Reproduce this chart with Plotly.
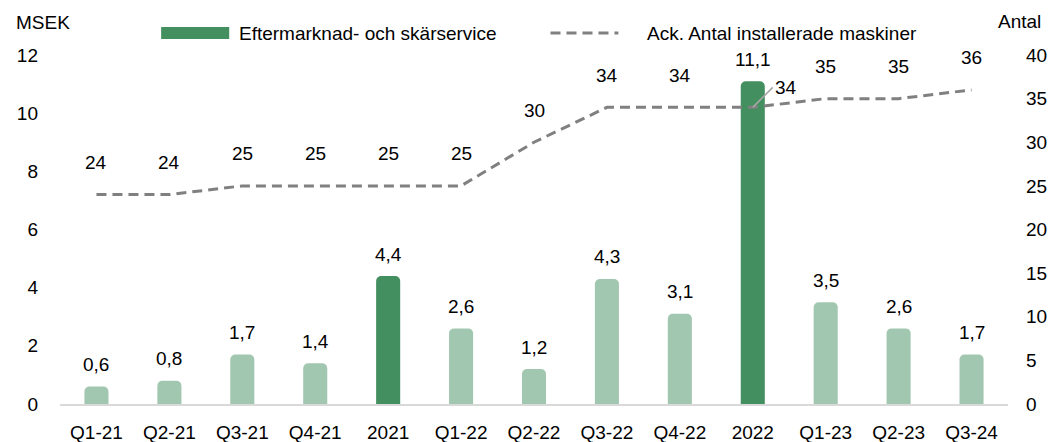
import plotly.graph_objects as go

categories = ["Q1-21", "Q2-21", "Q3-21", "Q4-21", "2021", "Q1-22", "Q2-22",
              "Q3-22", "Q4-22", "2022", "Q1-23", "Q2-23", "Q3-24"]
service_msek = [0.6, 0.8, 1.7, 1.4, 4.4, 2.6, 1.2, 4.3, 3.1, 11.1, 3.5, 2.6, 1.7]
installed_machines = [24, 24, 25, 25, 25, 25, 30, 34, 34, 34, 35, 35, 36]
left_ticks = [0, 2, 4, 6, 8, 10, 12]
right_ticks = [0, 5, 10, 15, 20, 25, 30, 35, 40]

FONT = "Liberation Sans, Arial, sans-serif"
FS = 19
LIGHT = "#a2c7b0"
DARK = "#438f60"
GREY = "#808080"
TXT = "#000000"

def fmt(v):
    return f"{v:.1f}".replace(".", ",")

bar_colors = [DARK if not c.startswith("Q") else LIGHT for c in categories]

fig = go.Figure()
fig.add_trace(go.Bar(x=categories, y=service_msek, marker_color=bar_colors,
                     marker_line_width=0, name="Eftermarknad- och skärservice",
                     showlegend=False, yaxis="y"))
fig.add_trace(go.Scatter(x=categories, y=installed_machines, mode="lines",
                         line=dict(color=GREY, width=3, dash="10px,6px"),
                         name="Ack. Antal installerade maskiner",
                         showlegend=False, yaxis="y2"))

tf = dict(size=FS, color=TXT, family=FONT)
annotations = []
for i, v in enumerate(service_msek):
    annotations.append(dict(x=i, y=v, xref="x", yref="y", text=fmt(v),
                            showarrow=False, yanchor="bottom", yshift=9.5, font=tf))
for i, (c, v) in enumerate(zip(categories, installed_machines)):
    if c == "2022":
        annotations.append(dict(x=i, y=v, xref="x", yref="y2", text=str(v),
                                showarrow=True, arrowhead=0, arrowwidth=1.5,
                                arrowcolor="#a6a6a6", ax=20, ay=-20,
                                xanchor="left", yanchor="middle", standoff=0,
                                font=tf))
    else:
        annotations.append(dict(x=i, y=v, xref="x", yref="y2", text=str(v),
                                showarrow=False, yanchor="middle", yshift=32,
                                font=tf))

# axis titles
annotations.append(dict(x=-0.0485, y=1.094, xref="paper", yref="paper", text="MSEK",
                        showarrow=False, xanchor="left", yanchor="middle", font=tf))
annotations.append(dict(x=1.037, y=1.097, xref="paper", yref="paper", text="Antal",
                        showarrow=False, xanchor="right", yanchor="middle", font=tf))
# legend texts
annotations.append(dict(x=0.187, y=1.063, xref="paper", yref="paper",
                        text="Eftermarknad- och skärservice", showarrow=False,
                        xanchor="left", yanchor="middle", font=tf))
annotations.append(dict(x=0.6167, y=1.063, xref="paper", yref="paper",
                        text="Ack. Antal installerade maskiner", showarrow=False,
                        xanchor="left", yanchor="middle", font=tf))

shapes = [
    dict(type="rect", xref="paper", yref="paper", x0=0.1067, x1=0.1785,
         y0=1.046, y1=1.080, fillcolor=DARK, line_width=0),
    dict(type="line", xref="paper", yref="paper", x0=0.5174, x1=0.589,
         y0=1.063, y1=1.063, line=dict(color=GREY, width=3, dash="10px,6px")),
]

fig.update_layout(
    width=1048, height=442,
    margin=dict(l=60, r=40, t=55, b=37.5, autoexpand=False),
    paper_bgcolor="white", plot_bgcolor="white",
    font=dict(family=FONT, size=FS, color=TXT),
    bargap=0.67, barcornerradius=5,
    showlegend=False,
    xaxis=dict(type="category", range=[-0.5, len(categories) - 0.5],
               categoryorder="array", categoryarray=categories, automargin=False,
               showline=True, linecolor="#d9d9d9", linewidth=2,
               ticks="", showgrid=False, tickfont=dict(size=FS),
               ticklabelstandoff=10),
    yaxis=dict(range=[0, 12], tickvals=left_ticks, showgrid=False, automargin=False,
               zeroline=False, showline=False, ticks="", ticklabelstandoff=21,
               tickfont=dict(size=FS)),
    yaxis2=dict(range=[0, 40], tickvals=right_ticks, overlaying="y", side="right",
                showgrid=False, zeroline=False, showline=False, ticks="",
                automargin=False, ticklabelstandoff=17, tickfont=dict(size=FS)),
    annotations=annotations, shapes=shapes,
)

fig.write_html("out.html", config={"displayModeBar": False},
               post_script="document.body.style.margin='0';document.body.style.overflow='hidden';")
